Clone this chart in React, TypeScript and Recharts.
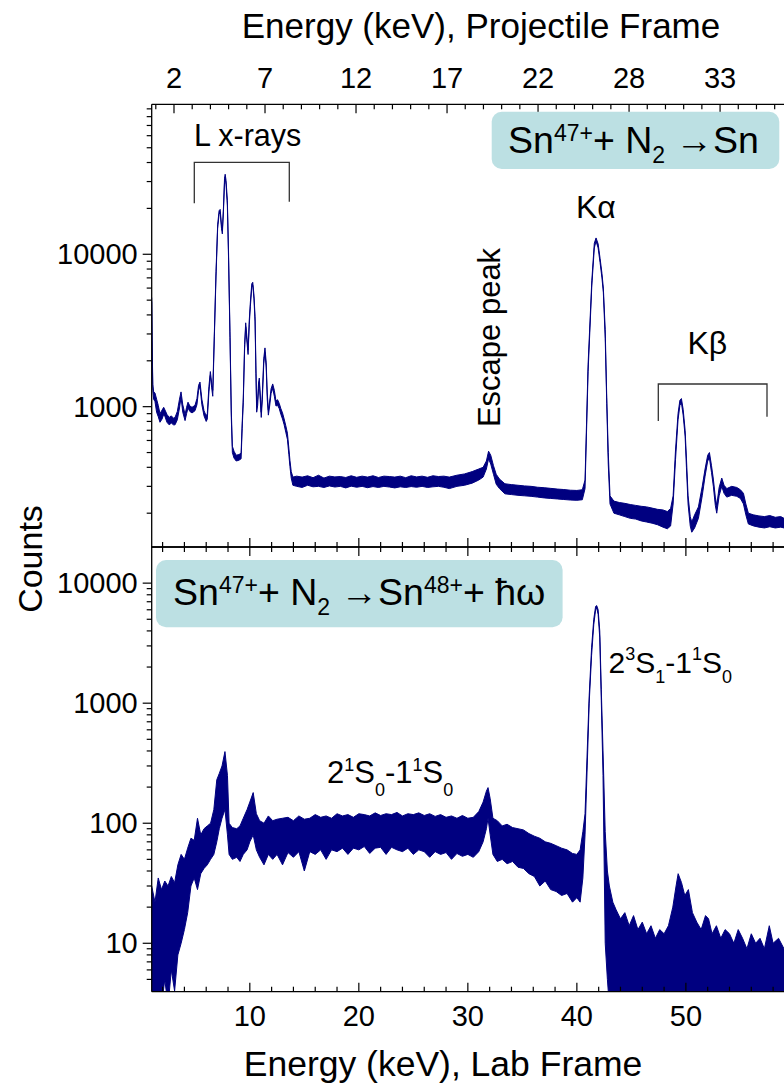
import React from "react";
import { ComposedChart, Area, XAxis, YAxis } from "recharts";

const FONT = "'Liberation Sans', Arial, Helvetica, sans-serif";
const NAVY = "#000080";
const BOX = "#bce0e3";

// ---------- Top panel: Sn47+ + N2 -> Sn (all x rays) ----------
// rows: [lab energy keV, lower edge of trace, upper edge of trace] (counts)
const TOP_L_LINES: number[][] = [
  [1.0, 4900, 5200], [1.04, 2500, 2700], [1.1, 1280, 1400], [1.18, 1120, 1250], [1.3, 1080, 1230],
  [1.45, 920, 1120], [1.6, 860, 1020], [1.76, 790, 900], [1.95, 830, 950], [2.1, 890, 990],
  [2.22, 860, 950], [2.4, 790, 890], [2.6, 760, 850], [2.8, 780, 870], [3.0, 760, 840],
  [3.14, 760, 850], [3.35, 820, 930], [3.55, 980, 1120], [3.69, 1150, 1250], [3.85, 920, 1030],
  [4.06, 810, 890], [4.2, 900, 990], [4.33, 980, 1070], [4.5, 930, 1010], [4.7, 910, 990],
  [4.97, 940, 1020], [5.15, 1030, 1130], [5.3, 1280, 1380], [5.43, 1360, 1450], [5.6, 1030, 1120],
  [5.8, 870, 940], [6.0, 800, 870], [6.1, 830, 900], [6.25, 1250, 1360], [6.38, 1600, 1700],
  [6.5, 1330, 1430], [6.6, 1170, 1280], [6.75, 2900, 3100], [6.9, 7200, 7700], [7.05, 14800, 15600],
  [7.18, 18300, 19300], [7.28, 18800, 19700], [7.4, 14800, 15600], [7.48, 13600, 14300], [7.58, 19000, 20000],
  [7.68, 29500, 31500], [7.74, 32000, 33500], [7.82, 28500, 30500], [7.94, 21000, 22600], [8.05, 9300, 10200],
  [8.18, 2850, 3100], [8.3, 850, 950], [8.4, 500, 550], [8.55, 460, 510], [8.75, 440, 480],
  [9.0, 445, 485], [9.2, 455, 495], [9.3, 720, 780], [9.4, 1060, 1140], [9.52, 2350, 2550],
  [9.62, 3350, 3550], [9.72, 2750, 2950], [9.84, 2200, 2350], [9.95, 3450, 3700], [10.05, 4550, 4850],
  [10.18, 6050, 6400], [10.27, 6250, 6550], [10.38, 5100, 5400], [10.48, 3600, 3900], [10.56, 1650, 1850],
  [10.63, 920, 990], [10.72, 1020, 1120], [10.8, 1320, 1430], [10.87, 1460, 1540], [10.95, 1120, 1230],
  [11.05, 850, 920], [11.15, 1120, 1220], [11.28, 1920, 2080], [11.39, 2270, 2430], [11.5, 1820, 1960],
  [11.6, 1120, 1230], [11.7, 880, 950], [11.82, 1010, 1090], [11.95, 1220, 1310], [12.1, 1320, 1410],
  [12.25, 1170, 1280], [12.4, 1010, 1090], [12.55, 1020, 1110], [12.7, 970, 1050], [12.85, 890, 970],
  [13.0, 830, 910], [13.15, 760, 830], [13.3, 680, 750], [13.45, 610, 670], [13.58, 485, 535],
  [13.68, 405, 445], [13.8, 340, 375], [13.95, 305, 345],
];
const TOP_PLATEAU: number[][] = [
  [14.3, 300, 350], [14.8, 295, 345], [15.3, 305, 352], [15.8, 298, 342], [16.3, 300, 355],
  [16.8, 295, 340], [17.3, 302, 350], [17.8, 297, 346], [18.3, 300, 348], [18.8, 293, 343],
  [19.3, 301, 352], [19.8, 296, 344], [20.3, 300, 350], [20.8, 294, 345], [21.3, 299, 352],
  [21.8, 295, 343], [22.3, 300, 350], [22.8, 297, 348], [23.3, 293, 345], [23.8, 298, 350],
  [24.3, 295, 342], [24.8, 299, 352], [25.3, 296, 346], [25.8, 300, 350], [26.3, 295, 344],
  [26.8, 298, 352], [27.3, 300, 348], [27.8, 296, 350],
];
const TOP_ESCAPE: number[][] = [
  [28.3, 290, 345], [29.0, 300, 355], [29.7, 305, 362], [30.4, 315, 375], [31.0, 330, 390],
  [31.4, 345, 400], [31.7, 390, 440], [31.9, 455, 510], [32.1, 420, 480], [32.35, 360, 410],
  [32.6, 310, 360], [32.9, 290, 335], [33.4, 268, 312], [34.0, 265, 308], [34.6, 262, 305],
  [35.2, 260, 302], [35.8, 258, 300], [36.4, 255, 296], [37.0, 252, 294], [37.6, 250, 291],
  [38.2, 248, 288], [38.8, 246, 286], [39.4, 244, 283], [40.0, 243, 282], [40.5, 245, 285],
];
const TOP_K_ALPHA: number[][] = [
  [40.75, 290, 330], [41.03, 1700, 1900], [41.37, 6200, 6700], [41.6, 11000, 11800], [41.76, 12200, 12800],
  [41.95, 11000, 11700], [42.13, 8800, 9400], [42.3, 7000, 7500], [42.43, 5600, 6000], [42.6, 2800, 3200],
  [42.74, 1050, 1150], [42.88, 420, 500], [43.04, 230, 260],
];
const TOP_K_BETA: number[][] = [
  [43.4, 200, 240], [43.9, 195, 235], [44.4, 190, 232], [44.9, 185, 228], [45.4, 183, 225],
  [45.9, 178, 222], [46.4, 175, 220], [46.9, 172, 216], [47.4, 168, 212], [47.9, 162, 210],
  [48.3, 158, 205], [48.6, 165, 215], [48.83, 230, 260], [49.05, 450, 520], [49.28, 820, 900],
  [49.45, 1020, 1100], [49.59, 1060, 1130], [49.75, 880, 960], [49.93, 640, 700], [50.05, 400, 460],
  [50.2, 230, 260], [50.4, 165, 190], [50.54, 150, 175], [50.8, 160, 195], [51.15, 185, 220],
  [51.5, 260, 300], [51.76, 350, 390], [52.0, 440, 480], [52.16, 460, 500], [52.35, 370, 410],
  [52.52, 300, 335], [52.7, 225, 255], [52.83, 200, 225], [53.05, 260, 295], [53.29, 300, 340],
  [53.5, 270, 305], [53.75, 255, 290], [54.2, 262, 300], [54.67, 258, 295], [55.0, 250, 285],
  [55.28, 230, 270], [55.5, 195, 230], [55.73, 170, 200], [56.2, 165, 195], [56.7, 162, 192],
  [57.2, 160, 190], [57.7, 163, 193], [58.2, 160, 188], [58.7, 162, 190], [59.0, 160, 185],
];

// ---------- Bottom panel: Sn47+ + N2 -> Sn48+ + hw (REC coincidence) ----------
const BOT_LOW: number[][] = [
  [1.0, 3, 30], [1.3, 3, 22], [1.6, 4, 35], [1.9, 3, 28], [2.2, 5, 33], [2.5, 3, 30],
  [2.8, 6, 36], [3.1, 4, 32], [3.4, 8, 45], [3.7, 10, 55], [4.0, 13, 50], [4.3, 18, 62],
  [4.6, 30, 75], [4.9, 35, 72], [5.2, 28, 110], [5.5, 38, 80], [5.8, 42, 90], [6.1, 45, 95],
  [6.4, 50, 100], [6.7, 55, 130],
];
const BOT_L_PEAK: number[][] = [
  [6.97, 70, 230], [7.2, 90, 260], [7.45, 110, 300], [7.72, 130, 395], [7.95, 80, 250],
  [8.1, 55, 100], [8.4, 50, 92], [8.8, 52, 90], [9.1, 48, 95], [9.4, 55, 110],
  [9.75, 60, 130], [10.0, 70, 150], [10.31, 80, 180], [10.6, 60, 120], [10.9, 52, 105],
  [11.3, 45, 100], [11.7, 55, 115], [12.1, 50, 105],
];
const BOT_CONTINUUM: number[][] = [
  [12.5, 55, 108], [13.0, 45, 110], [13.5, 57, 112], [14.0, 52, 105], [14.5, 58, 115],
  [15.0, 40, 108], [15.5, 58, 110], [16.0, 55, 118], [16.5, 60, 112], [17.0, 50, 115],
  [17.5, 60, 110], [18.0, 58, 120], [18.5, 62, 115], [19.0, 55, 118], [19.5, 62, 112],
  [20.0, 60, 120], [20.5, 64, 118], [21.0, 56, 115], [21.5, 62, 122], [22.0, 63, 116],
  [22.5, 55, 120], [23.0, 63, 118], [23.5, 60, 123], [24.0, 58, 115], [24.5, 62, 120],
  [25.0, 55, 118], [25.5, 60, 122], [26.0, 58, 116], [26.5, 52, 120], [27.0, 58, 114],
  [27.5, 55, 118], [28.0, 57, 112], [28.5, 50, 115], [29.0, 56, 110], [29.5, 53, 116],
  [30.0, 55, 110], [30.5, 52, 112],
];
const BOT_ESCAPE: number[][] = [
  [31.0, 58, 125], [31.4, 70, 150], [31.7, 90, 185], [31.85, 110, 198], [32.05, 80, 160],
  [32.3, 55, 110], [32.7, 48, 105], [33.15, 50, 95], [33.6, 46, 98], [34.1, 48, 92],
  [34.6, 43, 90], [35.1, 42, 88], [35.6, 38, 82], [36.1, 36, 78], [36.6, 30, 75],
  [37.1, 33, 70], [37.6, 28, 68], [38.1, 27, 65], [38.6, 25, 62], [39.1, 26, 60],
  [39.6, 22, 56], [40.0, 24, 55], [40.3, 22, 60], [40.55, 35, 85],
];
const BOT_REC_LINE: number[][] = [
  [40.75, 80, 120], [40.95, 300, 400], [41.13, 1000, 1150], [41.35, 2500, 2900], [41.55, 4500, 5000],
  [41.72, 6000, 6400], [41.82, 6200, 6500], [41.95, 5500, 6000], [42.1, 3500, 4000], [42.24, 1050, 1300],
  [42.4, 250, 400], [42.6, 10, 85], [42.8, 5, 40], [42.98, 3, 30],
];
const BOT_ABOVE: number[][] = [
  [43.3, 3, 22], [43.6, 3, 19], [44.0, 3, 16], [44.4, 3, 18], [44.8, 3, 14], [45.2, 3, 17],
  [45.6, 3, 13], [46.0, 3, 15], [46.4, 3, 12], [46.8, 3, 14], [47.2, 3, 11], [47.6, 3, 13],
  [48.0, 3, 12], [48.4, 3, 14], [48.8, 3, 20], [49.1, 3, 30], [49.29, 4, 38], [49.6, 3, 32],
  [49.9, 3, 25], [50.23, 3, 28], [50.6, 3, 18], [51.0, 3, 15], [51.4, 3, 13], [51.8, 3, 17],
  [52.08, 3, 16], [52.4, 3, 12], [52.8, 3, 14], [53.2, 3, 11], [53.6, 3, 13], [54.0, 3, 12],
  [54.4, 3, 10], [54.8, 3, 13], [55.2, 3, 11], [55.6, 3, 9], [56.0, 3, 12], [56.4, 3, 10],
  [56.8, 3, 11], [57.2, 3, 9], [57.65, 3, 14], [58.0, 3, 10], [58.5, 3, 11], [59.0, 3, 9],
];

// ---------- axes ----------
const LAB_DOMAIN = [1, 59];
const LAB_TICKS = [2, 4, 6, 8, 10, 12, 14, 16, 18, 20, 22, 24, 26, 28, 30, 32, 34, 36, 38, 40, 42, 44, 46, 48, 50, 52, 54, 56, 58];
const LAB_MAJOR = [10, 20, 30, 40, 50];
// projectile-frame ticks (1 keV apart), given at their lab-frame location on the shared axis
const PROJ_TICKS_AT_LAB = [
  1.376, 3.045, 4.715, 6.385, 8.054, 9.724, 11.394, 13.064, 14.733, 16.403, 18.073, 19.742,
  21.412, 23.082, 24.751, 26.421, 28.091, 29.76, 31.43, 33.1, 34.769, 36.439, 38.109, 39.779,
  41.448, 43.118, 44.788, 46.457, 48.127, 49.797, 51.466, 53.136, 54.806, 56.475, 58.145,
];
const PROJ_MAJOR_AT_LAB = [3.045, 11.394, 19.742, 28.091, 36.439, 44.788, 53.136];
const PROJ_LABELS = ["2", "7", "12", "17", "22", "28", "33"];
const TOP_Y_DOMAIN = [120, 96400];
const TOP_Y_TICKS = [200, 300, 400, 500, 600, 700, 800, 900, 1000, 2000, 3000, 4000, 5000, 6000, 7000, 8000, 9000, 10000, 20000, 30000, 40000, 50000, 60000, 70000, 80000, 90000];
const TOP_Y_MAJOR = [1000, 10000];
const BOT_Y_DOMAIN = [3.95, 20000];
const BOT_Y_TICKS = [5, 6, 7, 8, 9, 10, 20, 30, 40, 50, 60, 70, 80, 90, 100, 200, 300, 400, 500, 600, 700, 800, 900, 1000, 2000, 3000, 4000, 5000, 6000, 7000, 8000, 9000, 10000];
const BOT_Y_MAJOR = [10, 100, 1000, 10000];

const toData = (rows: number[][]) => rows.map((r) => ({ e: r[0], band: [r[1], r[2]] }));
const topData = toData([...TOP_L_LINES, ...TOP_PLATEAU, ...TOP_ESCAPE, ...TOP_K_ALPHA, ...TOP_K_BETA]);
const botData = toData([...BOT_LOW, ...BOT_L_PEAK, ...BOT_CONTINUUM, ...BOT_ESCAPE, ...BOT_REC_LINE, ...BOT_ABOVE]);

const makeXTick = (majors: number[], dir: number, labelDy: number | null, labels?: string[]) => (props: any) => {
  const { x, y, payload } = props;
  const v = payload.value;
  const idx = majors.indexOf(v);
  const isMajor = idx >= 0;
  const len = isMajor ? 9 : 5;
  return (
    <g>
      <line x1={x} x2={x} y1={y} y2={y + dir * len} stroke="#000" strokeWidth={1.2} />
      {labelDy !== null && isMajor && (
        <text x={x} y={y + labelDy} textAnchor="middle" fontSize={29} fontFamily={FONT} fill="#000">
          {labels ? labels[idx] : String(v)}
        </text>
      )}
    </g>
  );
};

const makeYTick = (majors: number[]) => (props: any) => {
  const { x, y, payload } = props;
  const v = payload.value;
  const isMajor = majors.includes(v);
  return (
    <g>
      <line x1={x - (isMajor ? 9 : 5)} x2={x} y1={y} y2={y} stroke="#000" strokeWidth={1.2} />
      {isMajor && (
        <text x={x - 14} y={y + 10} textAnchor="end" fontSize={29} fontFamily={FONT} fill="#000">
          {String(v)}
        </text>
      )}
    </g>
  );
};

const labUpNoLabel = makeXTick(LAB_MAJOR, -1, null);
const labDownNoLabel = makeXTick(LAB_MAJOR, 1, null);
const labBottom = makeXTick(LAB_MAJOR, -1, 34);
const projTop = makeXTick(PROJ_MAJOR_AT_LAB, 1, -16, PROJ_LABELS);
const topYTick = makeYTick(TOP_Y_MAJOR);
const botYTick = makeYTick(BOT_Y_MAJOR);

const AXIS_LINE = { stroke: "#000", strokeWidth: 1.3 };

export default function App() {
  const txt = { fontFamily: FONT, fill: "#000" } as const;
  return (
    <div style={{ position: "absolute", left: 0, top: 0, width: 784, height: 1091, overflow: "hidden", background: "#fff" }}>
      <div style={{ position: "absolute", left: 0, top: 0 }}>
        <ComposedChart width={784} height={600} data={topData} margin={{ top: 103.3, right: 0, bottom: 52, left: 150.7 }}>
          <XAxis xAxisId="lab" dataKey="e" type="number" domain={LAB_DOMAIN} allowDataOverflow orientation="bottom"
            height={1} ticks={LAB_TICKS} interval={0} tickSize={0} tickMargin={0} tickLine={false} axisLine={AXIS_LINE} tick={labUpNoLabel} />
          <XAxis xAxisId="proj" dataKey="e" type="number" domain={LAB_DOMAIN} allowDataOverflow orientation="top"
            height={1} ticks={PROJ_TICKS_AT_LAB} interval={0} tickSize={0} tickMargin={0} tickLine={false} axisLine={AXIS_LINE} tick={projTop} />
          <YAxis yAxisId="c" type="number" scale="log" domain={TOP_Y_DOMAIN} allowDataOverflow width={1}
            ticks={TOP_Y_TICKS} interval={0} tickSize={0} tickMargin={0} tickLine={false} axisLine={AXIS_LINE} tick={topYTick} />
          <Area xAxisId="lab" yAxisId="c" dataKey="band" type="linear" stroke={NAVY} strokeWidth={1}
            fill={NAVY} fillOpacity={1} isAnimationActive={false} dot={false} activeDot={false} />
        </ComposedChart>
      </div>
      <div style={{ position: "absolute", left: 0, top: 0 }}>
        <ComposedChart width={784} height={1091} data={botData} margin={{ top: 546, right: 0, bottom: 98.3, left: 150.7 }}>
          <XAxis xAxisId="lab" dataKey="e" type="number" domain={LAB_DOMAIN} allowDataOverflow orientation="bottom"
            height={1} ticks={LAB_TICKS} interval={0} tickSize={0} tickMargin={0} tickLine={false} axisLine={AXIS_LINE} tick={labBottom} />
          <XAxis xAxisId="labTop" dataKey="e" type="number" domain={LAB_DOMAIN} allowDataOverflow orientation="top"
            height={1} ticks={LAB_TICKS} interval={0} tickSize={0} tickMargin={0} tickLine={false} axisLine={AXIS_LINE} tick={labDownNoLabel} />
          <YAxis yAxisId="c" type="number" scale="log" domain={BOT_Y_DOMAIN} allowDataOverflow width={1}
            ticks={BOT_Y_TICKS} interval={0} tickSize={0} tickMargin={0} tickLine={false} axisLine={AXIS_LINE} tick={botYTick} />
          <Area xAxisId="lab" yAxisId="c" dataKey="band" type="linear" stroke={NAVY} strokeWidth={1}
            fill={NAVY} fillOpacity={1} isAnimationActive={false} dot={false} activeDot={false} />
        </ComposedChart>
      </div>
      <svg width={784} height={1091} style={{ position: "absolute", left: 0, top: 0, pointerEvents: "none" }}>
        <text x={481} y={38} textAnchor="middle" fontSize={35} {...txt}>Energy (keV), Projectile Frame</text>
        <text x={443} y={1076} textAnchor="middle" fontSize={35.5} {...txt}>Energy (keV), Lab Frame</text>
        <text transform="translate(41.7,559) rotate(-90)" textAnchor="middle" fontSize={34} {...txt}>Counts</text>

        <text x={194} y={145.5} fontSize={30.5} {...txt}>L x-rays</text>
        <path d="M194.3 203.3 V162.3 H289.3 V201.7" fill="none" stroke="#333" strokeWidth={1.3} />
        <text x={576} y={218.3} fontSize={32} {...txt}>K&#945;</text>
        <text x={687.5} y={354} fontSize={32} {...txt}>K&#946;</text>
        <path d="M658.3 421 V384 H767 V416.7" fill="none" stroke="#333" strokeWidth={1.3} />
        <text transform="translate(500,337.5) rotate(-90)" textAnchor="middle" fontSize={31} {...txt}>Escape peak</text>

        <rect x={491.7} y={111.7} width={287.6} height={57.3} rx={10} fill={BOX} />
        <text x={508} y={153.3} fontSize={37.5} {...txt} style={{ whiteSpace: "pre" }}>
          Sn<tspan fontSize={23} dy={-12}>47+</tspan><tspan dy={12}>+ N</tspan><tspan fontSize={23} dy={10}>2</tspan><tspan dy={-10}> {"\u2192"}Sn</tspan>
        </text>
        <rect x={156} y={560} width={406.6} height={67.3} rx={10} fill={BOX} />
        <text x={173} y={605} fontSize={37.5} {...txt} style={{ whiteSpace: "pre" }}>
          Sn<tspan fontSize={23} dy={-12}>47+</tspan><tspan dy={12}>+ N</tspan><tspan fontSize={23} dy={10}>2</tspan><tspan dy={-10}> {"\u2192"}Sn</tspan><tspan fontSize={23} dy={-12}>48+</tspan><tspan dy={12}>+ {"\u0127\u03c9"}</tspan>
        </text>
        <text x={608.5} y={673.3} fontSize={30} {...txt}>
          2<tspan fontSize={18} dy={-13}>3</tspan><tspan dy={13}>S</tspan><tspan fontSize={18} dy={10}>1</tspan><tspan dy={-10}>-1</tspan><tspan fontSize={18} dy={-13}>1</tspan><tspan dy={13}>S</tspan><tspan fontSize={18} dy={10}>0</tspan>
        </text>
        <text x={327} y={783.3} fontSize={31} {...txt}>
          2<tspan fontSize={18} dy={-12}>1</tspan><tspan dy={12}>S</tspan><tspan fontSize={18} dy={13}>0</tspan><tspan dy={-13}>-1</tspan><tspan fontSize={18} dy={-12}>1</tspan><tspan dy={12}>S</tspan><tspan fontSize={18} dy={13}>0</tspan>
        </text>
      </svg>
    </div>
  );
}
